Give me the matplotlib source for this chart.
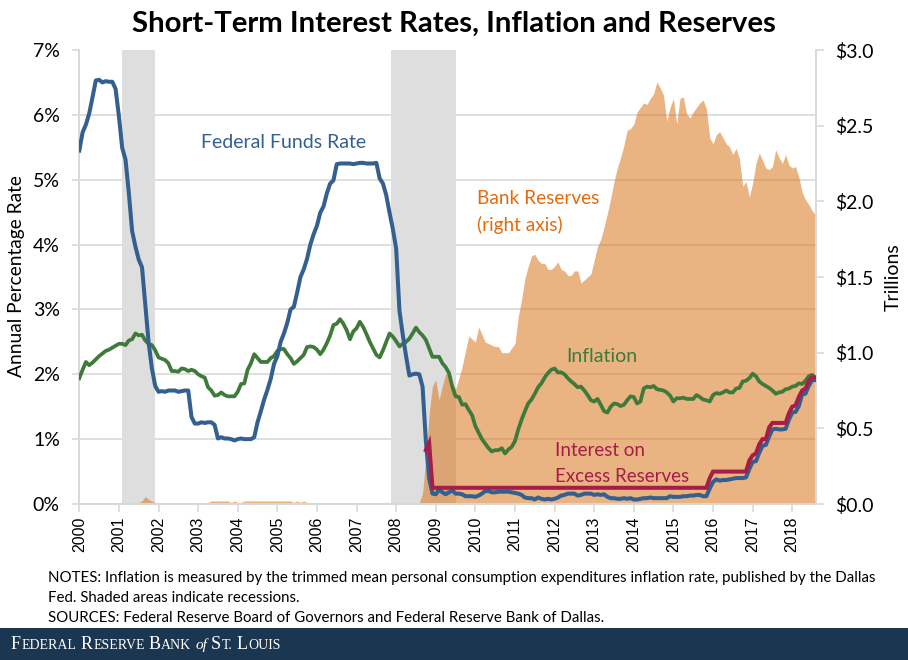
#!/usr/bin/env python
# Short-term interest rates, inflation and bank reserves, monthly Jan 2000 - Aug 2018.
import numpy as np, matplotlib
matplotlib.use("Agg")
import matplotlib.pyplot as plt
from matplotlib.patches import Rectangle

W, H = 908, 660
SANS = "Lato"

fed_funds = [
    5.45, 5.73, 5.85, 6.02, 6.27, 6.53, 6.54, 6.50, 6.52, 6.51, 6.51, 6.40,
    5.98, 5.49, 5.31, 4.80, 4.21, 3.97, 3.77, 3.65, 3.07, 2.49, 2.09, 1.82,
    1.73, 1.74, 1.73, 1.75, 1.75, 1.75, 1.73, 1.74, 1.75, 1.75, 1.34, 1.24,
    1.24, 1.26, 1.25, 1.26, 1.26, 1.22, 1.01, 1.03, 1.01, 1.01, 1.00, 0.98,
    1.00, 1.01, 1.00, 1.00, 1.00, 1.03, 1.26, 1.43, 1.61, 1.76, 1.93, 2.16,
    2.28, 2.50, 2.63, 2.79, 3.00, 3.04, 3.26, 3.50, 3.62, 3.78, 4.00, 4.16,
    4.29, 4.49, 4.59, 4.79, 4.94, 4.99, 5.24, 5.25, 5.25, 5.25, 5.25, 5.24,
    5.25, 5.26, 5.26, 5.25, 5.25, 5.25, 5.26, 5.02, 4.94, 4.76, 4.49, 4.24,
    3.94, 2.98, 2.61, 2.28, 1.98, 2.00, 2.01, 2.00, 1.81, 0.97, 0.39, 0.16,
    0.15, 0.22, 0.18, 0.15, 0.18, 0.21, 0.16, 0.16, 0.15, 0.12, 0.12, 0.12,
    0.11, 0.13, 0.16, 0.20, 0.20, 0.18, 0.18, 0.19, 0.19, 0.19, 0.19, 0.18,
    0.17, 0.16, 0.14, 0.10, 0.09, 0.09, 0.07, 0.10, 0.08, 0.07, 0.08, 0.07,
    0.08, 0.10, 0.13, 0.14, 0.16, 0.16, 0.16, 0.13, 0.14, 0.16, 0.16, 0.16,
    0.14, 0.15, 0.14, 0.15, 0.11, 0.09, 0.09, 0.08, 0.08, 0.09, 0.08, 0.09,
    0.07, 0.07, 0.08, 0.09, 0.09, 0.10, 0.09, 0.09, 0.09, 0.09, 0.09, 0.12,
    0.11, 0.11, 0.11, 0.12, 0.12, 0.13, 0.13, 0.14, 0.14, 0.12, 0.12, 0.24,
    0.34, 0.38, 0.36, 0.37, 0.37, 0.38, 0.39, 0.40, 0.40, 0.40, 0.41, 0.54,
    0.65, 0.66, 0.79, 0.90, 0.91, 1.04, 1.15, 1.16, 1.15, 1.15, 1.16, 1.30,
    1.41, 1.42, 1.51, 1.69, 1.70, 1.82, 1.91, 1.91,
]

inflation = [
    1.94, 2.07, 2.19, 2.14, 2.18, 2.23, 2.28, 2.32, 2.36, 2.38, 2.41, 2.44,
    2.47, 2.47, 2.45, 2.52, 2.54, 2.63, 2.60, 2.61, 2.52, 2.47, 2.45, 2.37,
    2.26, 2.24, 2.22, 2.17, 2.05, 2.05, 2.04, 2.09, 2.08, 2.05, 2.07, 2.05,
    2.00, 1.97, 1.95, 1.80, 1.75, 1.67, 1.68, 1.72, 1.68, 1.66, 1.66, 1.66,
    1.73, 1.85, 1.86, 2.07, 2.17, 2.31, 2.25, 2.19, 2.19, 2.19, 2.25, 2.28,
    2.36, 2.39, 2.39, 2.31, 2.25, 2.16, 2.20, 2.25, 2.30, 2.42, 2.43, 2.42,
    2.38, 2.31, 2.38, 2.48, 2.60, 2.76, 2.78, 2.85, 2.78, 2.68, 2.54, 2.66,
    2.71, 2.81, 2.73, 2.62, 2.50, 2.40, 2.30, 2.26, 2.37, 2.50, 2.63, 2.58,
    2.51, 2.43, 2.47, 2.50, 2.55, 2.63, 2.72, 2.65, 2.60, 2.53, 2.40, 2.27,
    2.27, 2.27, 2.17, 2.11, 2.02, 1.81, 1.66, 1.65, 1.53, 1.54, 1.45, 1.37,
    1.20, 1.10, 1.00, 0.93, 0.86, 0.81, 0.83, 0.83, 0.86, 0.78, 0.84, 0.88,
    0.97, 1.15, 1.30, 1.43, 1.55, 1.61, 1.70, 1.80, 1.86, 1.95, 2.02, 2.07,
    2.09, 2.03, 2.03, 2.00, 1.94, 1.89, 1.85, 1.80, 1.81, 1.75, 1.68, 1.60,
    1.58, 1.62, 1.53, 1.43, 1.41, 1.50, 1.55, 1.54, 1.51, 1.53, 1.60, 1.66,
    1.65, 1.55, 1.58, 1.78, 1.81, 1.80, 1.82, 1.77, 1.76, 1.75, 1.72, 1.67,
    1.58, 1.63, 1.63, 1.64, 1.62, 1.62, 1.62, 1.68, 1.65, 1.61, 1.60, 1.58,
    1.68, 1.71, 1.70, 1.72, 1.75, 1.72, 1.72, 1.78, 1.79, 1.89, 1.90, 1.94,
    2.01, 1.97, 1.89, 1.85, 1.82, 1.79, 1.75, 1.70, 1.72, 1.73, 1.77, 1.78,
    1.81, 1.82, 1.86, 1.85, 1.90, 1.97, 1.99, 1.95,
]

# trillions of dollars
reserves = [
    0.01, 0.01, 0.01, 0.01, 0.01, 0.01, 0.01, 0.01, 0.01, 0.01, 0.01, 0.01,
    0.01, 0.01, 0.01, 0.01, 0.01, 0.01, 0.01, 0.02, 0.05, 0.03, 0.02, 0.01,
    0.01, 0.01, 0.01, 0.01, 0.01, 0.01, 0.01, 0.01, 0.01, 0.01, 0.01, 0.01,
    0.01, 0.01, 0.01, 0.01, 0.02, 0.02, 0.02, 0.02, 0.02, 0.02, 0.01, 0.02,
    0.01, 0.01, 0.02, 0.02, 0.02, 0.02, 0.02, 0.02, 0.02, 0.02, 0.02, 0.02,
    0.02, 0.02, 0.02, 0.02, 0.02, 0.01, 0.02, 0.01, 0.02, 0.01, 0.01, 0.01,
    0.01, 0.01, 0.01, 0.01, 0.01, 0.01, 0.01, 0.01, 0.01, 0.01, 0.01, 0.01,
    0.01, 0.01, 0.01, 0.01, 0.01, 0.01, 0.01, 0.01, 0.01, 0.01, 0.01, 0.01,
    0.01, 0.01, 0.01, 0.01, 0.01, 0.01, 0.01, 0.01, 0.07, 0.30, 0.60, 0.78,
    0.82, 0.69, 0.78, 0.86, 0.86, 0.80, 0.76, 0.83, 0.91, 1.01, 1.11, 1.09,
    1.07, 1.17, 1.12, 1.07, 1.06, 1.05, 1.04, 1.04, 1.00, 1.00, 1.00, 1.03,
    1.06, 1.24, 1.35, 1.49, 1.57, 1.64, 1.65, 1.61, 1.59, 1.59, 1.55, 1.55,
    1.57, 1.60, 1.55, 1.54, 1.51, 1.51, 1.54, 1.54, 1.46, 1.48, 1.50, 1.52,
    1.61, 1.70, 1.75, 1.83, 1.92, 2.02, 2.13, 2.22, 2.29, 2.37, 2.47, 2.48,
    2.51, 2.59, 2.62, 2.65, 2.64, 2.68, 2.71, 2.79, 2.75, 2.70, 2.53, 2.62,
    2.68, 2.51, 2.68, 2.69, 2.58, 2.55, 2.59, 2.62, 2.65, 2.67, 2.61, 2.42,
    2.38, 2.44, 2.46, 2.42, 2.38, 2.36, 2.31, 2.35, 2.28, 2.10, 2.13, 2.03,
    2.12, 2.25, 2.32, 2.27, 2.22, 2.21, 2.23, 2.34, 2.29, 2.25, 2.31, 2.24,
    2.22, 2.23, 2.16, 2.06, 2.01, 1.98, 1.94, 1.91,
]

# interest on excess reserves starts Oct 2008
ioer_start = 2000 + 105 / 12
ioer = [0.83, 0.94, 0.25] + [0.25] * 83 + [
    0.40,
    0.50, 0.50, 0.50, 0.50, 0.50, 0.50, 0.50, 0.50, 0.50, 0.50, 0.50, 0.67,
    0.75, 0.78, 0.92, 1.00, 1.00, 1.18, 1.25, 1.25, 1.25, 1.25, 1.25, 1.40,
    1.50, 1.52, 1.65, 1.75, 1.78, 1.90, 1.95, 1.95,
]

recessions = [(2001.08, 2001.91), (2007.86, 2009.50)]
years = list(range(2000, 2019))
pct_ticks = list(range(0, 8))
usd_ticks = [0.0, 0.5, 1.0, 1.5, 2.0, 2.5, 3.0]

BLUE, GREEN, RED = "#34608f", "#3f7a3b", "#a51d48"
ORANGE_FILL, ORANGE_TXT = "#da751c", "#e36c09"
GRID = "#d9d9d9"

t = 2000 + np.arange(len(fed_funds)) / 12
t_ioer = ioer_start + np.arange(len(ioer)) / 12

fig = plt.figure(figsize=(W / 100, H / 100), dpi=100)
ax2 = fig.add_axes([79.3 / W, 1 - 504 / H, (816 - 79.3) / W, (504 - 50) / H])
ax = ax2.twinx()
# left axes sits on top so the lines cover the reserves area
ax2.yaxis.tick_right()
ax.yaxis.tick_left()
ax.set_zorder(2)
ax2.set_zorder(1)
ax.patch.set_visible(False)

# grid, recessions and the reserves area all live on the back axes
ax2.set_xlim(2000, 2018.6)
ax2.set_ylim(0, 3)
ax2.set_yticks([v * 3 / 7 for v in pct_ticks[1:]], minor=True)
ax2.tick_params(axis="y", which="minor", length=0)
ax2.grid(axis="y", which="minor", color=GRID, lw=1.2)
ax2.set_axisbelow(True)
for a, b in recessions:
    ax2.axvspan(a, b, color="#dedede", lw=0, zorder=1)
ax2.fill_between(t, 0, reserves, color=ORANGE_FILL, alpha=0.55, lw=0, zorder=2)
ax2.set_yticks(usd_ticks)
ax2.set_yticklabels([f"${v:.1f}" for v in usd_ticks], fontsize=14, family=SANS)
ax2.tick_params(axis="y", which="major", length=6, width=1.2, color=GRID, pad=8, right=True, left=False)

ax.set_xlim(2000, 2018.6)
ax.set_ylim(0, 7)
ax.plot(t, inflation, color=GREEN, lw=2.7, zorder=3, solid_joinstyle="round")
ax.plot(t, fed_funds, color=BLUE, lw=2.9, zorder=4, solid_joinstyle="round")
ax.plot(t_ioer, ioer, color=RED, lw=2.9, zorder=5, solid_joinstyle="miter")
ax.set_yticks(pct_ticks)
ax.set_yticklabels([f"{v}%" for v in pct_ticks], fontsize=14, family=SANS)
ax.tick_params(axis="y", length=5, width=1.2, color=GRID, pad=9)

ax2.set_xticks(years)
ax2.set_xticklabels(years, rotation=90, fontsize=11.5, family="Liberation Sans")
ax2.tick_params(axis="x", length=6, width=1.2, color=GRID, pad=3)
ax.tick_params(axis="x", bottom=False, labelbottom=False)

for a in (ax, ax2):
    a.spines["top"].set_visible(False)
    for s in ("left", "right", "bottom"):
        a.spines[s].set_color(GRID)
        a.spines[s].set_linewidth(1.2)


def label(x, y, s, **kw):
    # x, y are pixels of the 908x660 picture
    kw.setdefault("family", SANS)
    kw.setdefault("va", "center")
    return fig.text(x / W, 1 - y / H, s, **kw)


label(454, 24, "Short-Term Interest Rates, Inflation and Reserves", fontsize=21.2,
      fontweight="bold", ha="center")
label(17, 276, "Annual Percentage Rate", fontsize=13.8, rotation=90, ha="center")
label(893, 277, "Trillions", fontsize=14, rotation=90, ha="center")

label(201, 143, "Federal Funds Rate", fontsize=14, color=BLUE)
label(477, 199, "Bank Reserves", fontsize=13.7, color=ORANGE_TXT)
label(477, 225, "(right axis)", fontsize=13.7, color=ORANGE_TXT)
label(566, 356, "Inflation", fontsize=14, color=GREEN)
label(555, 451, "Interest on", fontsize=13.5, color=RED)
label(555, 477, "Excess Reserves", fontsize=13.5, color=RED)

notes = [
    "NOTES: Inflation is measured by the trimmed mean personal consumption expenditures inflation rate, published by the Dallas",
    "Fed. Shaded areas indicate recessions.",
    "SOURCES: Federal Reserve Board of Governors and Federal Reserve Bank of Dallas.",
]
for y, line in zip([578, 598, 618], notes):
    label(48, y, line, fontsize=10.8)

# footer band with the small-caps wordmark
fig.add_artist(Rectangle((0, 0), 1, (H - 628) / H, transform=fig.transFigure,
                         color="#1a3651", lw=0))
pieces = [("F", 13, "normal"), ("EDERAL ", 10, "normal"), ("R", 13, "normal"),
          ("ESERVE ", 10, "normal"), ("B", 13, "normal"), ("ANK ", 10, "normal"),
          ("of ", 11, "italic"), ("S", 13, "normal"), ("T. ", 10, "normal"),
          ("L", 13, "normal"), ("OUIS", 10, "normal")]
rend = fig.canvas.get_renderer()
xpos = 11.0
for s, size, style in pieces:
    txt = fig.text(xpos / W, 1 - 649 / H, s.rstrip(), color="white", fontsize=size, style=style,
                   family="Liberation Serif", va="baseline")
    xpos += txt.get_window_extent(rend).width + (4.0 if s.endswith(" ") else 0.6)

fig.savefig("out.png", dpi=100)
print("wrote out.png")
